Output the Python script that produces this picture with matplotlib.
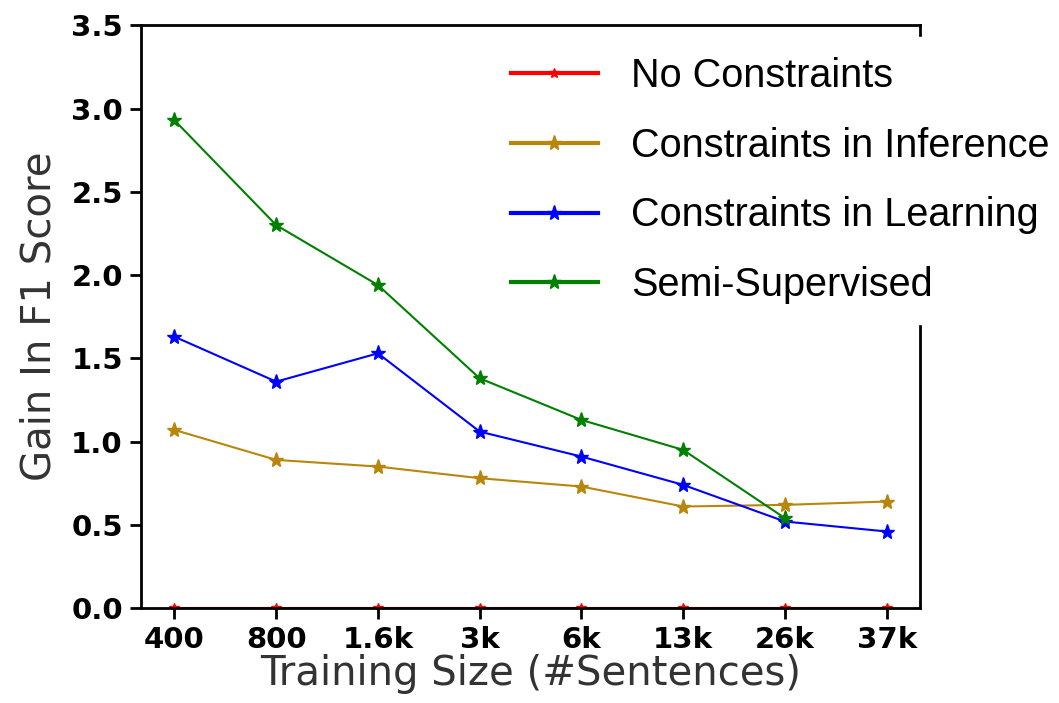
import matplotlib.pyplot as plt

sizes = ['400', '800', '1.6k', '3k', '6k', '13k', '26k', '37k']
no_constraints = [0, 0, 0, 0, 0, 0, 0, 0]
cons_inference = [1.07, 0.89, 0.85, 0.78, 0.73, 0.61, 0.62, 0.64]
cons_learning = [1.63, 1.36, 1.53, 1.06, 0.91, 0.74, 0.52, 0.46]
semi_supervised = [2.93, 2.30, 1.94, 1.38, 1.13, 0.95, 0.54]

x = list(range(len(sizes)))

fig = plt.figure(figsize=(10.59, 7.03), dpi=100)
ax = fig.add_axes([0.133, 0.135, 0.736, 0.829])

ax.plot(x, no_constraints, '*-', color='red', markersize=7, label='No Constraints')
ax.plot(x, cons_inference, '*-', color='#b8860b', markersize=11, label='Constraints in Inference')
ax.plot(x, cons_learning, '*-', color='blue', markersize=11, label='Constraints in Learning')
ax.plot(x[:len(semi_supervised)], semi_supervised, '*-', color='green', markersize=11, label='Semi-Supervised')

ax.set_xlim(-0.33, 7.33)
ax.set_ylim(0, 3.5)
ax.set_xticks(x)
ax.set_xticklabels(sizes)
ax.set_yticks([0, 0.5, 1.0, 1.5, 2.0, 2.5, 3.0, 3.5])
for lab in ax.get_xticklabels() + ax.get_yticklabels():
    lab.set_fontweight('bold')
    lab.set_fontsize(21)
ax.tick_params(length=8, width=2, pad=5)
for s in ax.spines.values():
    s.set_linewidth(2)

ax.set_xlabel('Training Size (#Sentences)', fontsize=29, color='#333333', labelpad=0)
ax.set_ylabel('Gain In F1 Score', fontsize=29, color='#333333', labelpad=8)

leg = fig.legend(loc='upper right', bbox_to_anchor=(1.01, 0.947),
                 prop={'family': 'Liberation Sans', 'size': 28.5},
                 frameon=True, framealpha=1, edgecolor='white', fancybox=False,
                 handlelength=2.2, handletextpad=0.85, labelspacing=0.8,
                 borderpad=0.5, borderaxespad=0)
for line in leg.get_lines():
    line.set_linewidth(3)

fig.savefig('out.png', dpi=100)
